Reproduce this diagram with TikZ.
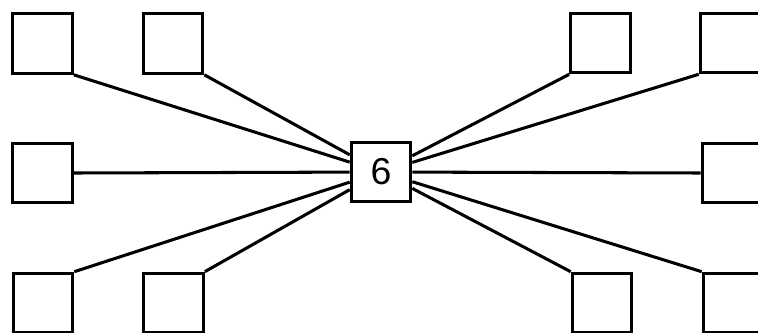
\documentclass[tikz,border=0pt]{standalone}
\usepackage{fontspec}
\setmainfont{Liberation Sans}
\begin{document}
\begin{tikzpicture}[x=0.03cm,y=-0.03cm,
  carre/.style={draw,line width=2.8pt,minimum size=1.78cm,inner sep=0pt},
  lien/.style={line width=2.6pt}]
  \clip (0,0) rectangle (758,332);
  \fill[white] (0,0) rectangle (758,332);

  % Noeud central
  \node[carre,font=\fontsize{32}{32}\selectfont] (c) at (381,172) {6};

  % Carres du haut
  \node[carre] (hg1) at (42.5,43.5) {};
  \node[carre] (hg2) at (173,43.5) {};
  \node[carre] (hd1) at (600.5,43) {};
  \node[carre] (hd2) at (730,43) {};

  % Carres du milieu
  \node[carre] (mg) at (42.5,173) {};
  \node[carre] (md) at (732,173) {};

  % Carres du bas
  \node[carre] (bg1) at (43,303) {};
  \node[carre] (bg2) at (173.5,303) {};
  \node[carre] (bd1) at (602,303) {};
  \node[carre] (bd2) at (733,303) {};

  % Liens vers le centre
  \draw[lien] (hg1.south east) -- (c);
  \draw[lien] (hg2.south east) -- (c);
  \draw[lien] (hd1.south west) -- (c);
  \draw[lien] (hd2.south west) -- (c);
  \draw[lien] (mg.east) -- (c);
  \draw[lien] (md.west) -- (c);
  \draw[lien] (bg1.north east) -- (c);
  \draw[lien] (bg2.north east) -- (c);
  \draw[lien] (bd1.north west) -- (c);
  \draw[lien] (bd2.north west) -- (c);
\end{tikzpicture}
\end{document}
